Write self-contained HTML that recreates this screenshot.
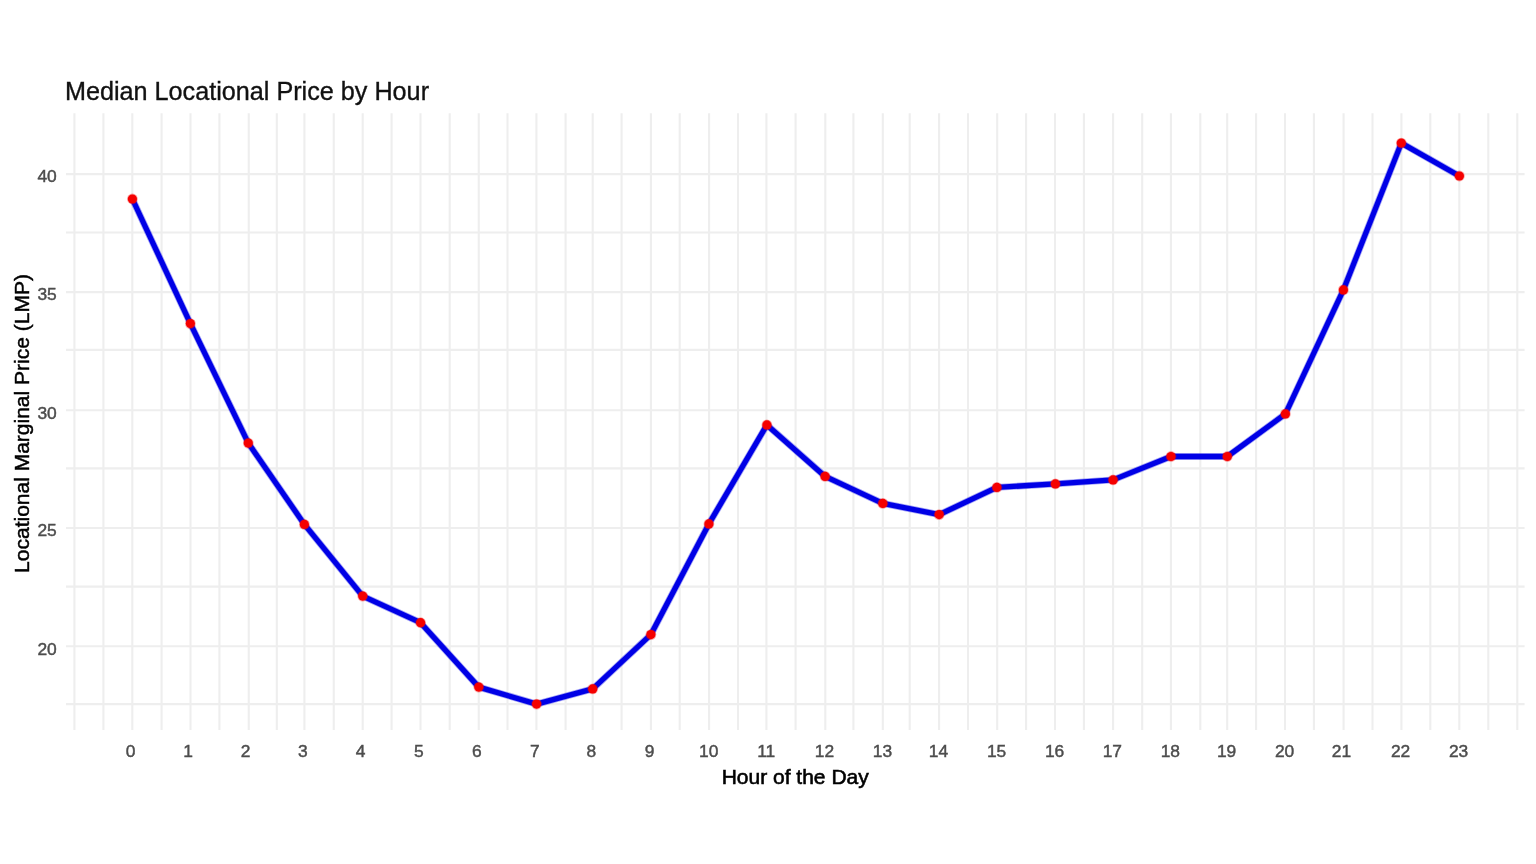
<!DOCTYPE html>
<html><head><meta charset="utf-8"><style>
html,body{margin:0;padding:0;background:#fff;}
body{width:1536px;height:864px;overflow:hidden;}
svg{display:block;will-change:transform;}

text{font-family:"Liberation Sans",sans-serif;}
</style></head><body>
<div id="w"><svg width="1536" height="864" viewBox="0 0 1536 864">
<g>
<rect width="1536" height="864" fill="#fff"/>
<g stroke="#EEEEEE" stroke-width="2.1" fill="none">
<line x1="74.40" y1="113.2" x2="74.40" y2="730.0"/>
<line x1="103.40" y1="113.2" x2="103.40" y2="730.0"/>
<line x1="132.30" y1="113.2" x2="132.30" y2="730.0"/>
<line x1="161.60" y1="113.2" x2="161.60" y2="730.0"/>
<line x1="190.50" y1="113.2" x2="190.50" y2="730.0"/>
<line x1="219.40" y1="113.2" x2="219.40" y2="730.0"/>
<line x1="248.75" y1="113.2" x2="248.75" y2="730.0"/>
<line x1="276.80" y1="113.2" x2="276.80" y2="730.0"/>
<line x1="304.40" y1="113.2" x2="304.40" y2="730.0"/>
<line x1="333.75" y1="113.2" x2="333.75" y2="730.0"/>
<line x1="362.70" y1="113.2" x2="362.70" y2="730.0"/>
<line x1="391.60" y1="113.2" x2="391.60" y2="730.0"/>
<line x1="420.50" y1="113.2" x2="420.50" y2="730.0"/>
<line x1="449.70" y1="113.2" x2="449.70" y2="730.0"/>
<line x1="478.75" y1="113.2" x2="478.75" y2="730.0"/>
<line x1="507.50" y1="113.2" x2="507.50" y2="730.0"/>
<line x1="536.40" y1="113.2" x2="536.40" y2="730.0"/>
<line x1="565.60" y1="113.2" x2="565.60" y2="730.0"/>
<line x1="592.70" y1="113.2" x2="592.70" y2="730.0"/>
<line x1="621.60" y1="113.2" x2="621.60" y2="730.0"/>
<line x1="650.90" y1="113.2" x2="650.90" y2="730.0"/>
<line x1="679.70" y1="113.2" x2="679.70" y2="730.0"/>
<line x1="709.10" y1="113.2" x2="709.10" y2="730.0"/>
<line x1="738.00" y1="113.2" x2="738.00" y2="730.0"/>
<line x1="766.40" y1="113.2" x2="766.40" y2="730.0"/>
<line x1="795.60" y1="113.2" x2="795.60" y2="730.0"/>
<line x1="825.30" y1="113.2" x2="825.30" y2="730.0"/>
<line x1="853.40" y1="113.2" x2="853.40" y2="730.0"/>
<line x1="882.80" y1="113.2" x2="882.80" y2="730.0"/>
<line x1="909.70" y1="113.2" x2="909.70" y2="730.0"/>
<line x1="939.10" y1="113.2" x2="939.10" y2="730.0"/>
<line x1="968.00" y1="113.2" x2="968.00" y2="730.0"/>
<line x1="997.20" y1="113.2" x2="997.20" y2="730.0"/>
<line x1="1026.10" y1="113.2" x2="1026.10" y2="730.0"/>
<line x1="1055.00" y1="113.2" x2="1055.00" y2="730.0"/>
<line x1="1083.90" y1="113.2" x2="1083.90" y2="730.0"/>
<line x1="1113.10" y1="113.2" x2="1113.10" y2="730.0"/>
<line x1="1142.20" y1="113.2" x2="1142.20" y2="730.0"/>
<line x1="1170.90" y1="113.2" x2="1170.90" y2="730.0"/>
<line x1="1200.30" y1="113.2" x2="1200.30" y2="730.0"/>
<line x1="1227.20" y1="113.2" x2="1227.20" y2="730.0"/>
<line x1="1256.10" y1="113.2" x2="1256.10" y2="730.0"/>
<line x1="1285.00" y1="113.2" x2="1285.00" y2="730.0"/>
<line x1="1313.90" y1="113.2" x2="1313.90" y2="730.0"/>
<line x1="1343.60" y1="113.2" x2="1343.60" y2="730.0"/>
<line x1="1372.50" y1="113.2" x2="1372.50" y2="730.0"/>
<line x1="1401.40" y1="113.2" x2="1401.40" y2="730.0"/>
<line x1="1430.30" y1="113.2" x2="1430.30" y2="730.0"/>
<line x1="1459.30" y1="113.2" x2="1459.30" y2="730.0"/>
<line x1="1488.30" y1="113.2" x2="1488.30" y2="730.0"/>
<line x1="1517.30" y1="113.2" x2="1517.30" y2="730.0"/>
<line x1="66.0" y1="174.10" x2="1524.6" y2="174.10"/>
<line x1="66.0" y1="232.50" x2="1524.6" y2="232.50"/>
<line x1="66.0" y1="292.10" x2="1524.6" y2="292.10"/>
<line x1="66.0" y1="349.90" x2="1524.6" y2="349.90"/>
<line x1="66.0" y1="410.30" x2="1524.6" y2="410.30"/>
<line x1="66.0" y1="468.40" x2="1524.6" y2="468.40"/>
<line x1="66.0" y1="528.00" x2="1524.6" y2="528.00"/>
<line x1="66.0" y1="586.60" x2="1524.6" y2="586.60"/>
<line x1="66.0" y1="646.30" x2="1524.6" y2="646.30"/>
<line x1="66.0" y1="704.10" x2="1524.6" y2="704.10"/>
</g>
<polyline points="132.4,199.0 190.4,323.6 248.3,443.1 304.4,524.4 362.7,596.1 420.6,622.7 478.8,687.1 536.6,704.1 592.7,688.9 650.9,634.6 708.9,523.9 766.9,424.9 825.1,476.4 882.8,503.4 939.2,514.6 996.9,487.4 1055.4,483.9 1113.1,479.9 1171.0,456.5 1227.3,456.5 1285.4,413.9 1343.4,289.9 1401.3,143.1 1459.4,176.0" fill="none" stroke="#0000E6" stroke-opacity="0.35" stroke-width="6.9" stroke-linejoin="round" stroke-linecap="butt"/>
<polyline points="132.4,199.0 190.4,323.6 248.3,443.1 304.4,524.4 362.7,596.1 420.6,622.7 478.8,687.1 536.6,704.1 592.7,688.9 650.9,634.6 708.9,523.9 766.9,424.9 825.1,476.4 882.8,503.4 939.2,514.6 996.9,487.4 1055.4,483.9 1113.1,479.9 1171.0,456.5 1227.3,456.5 1285.4,413.9 1343.4,289.9 1401.3,143.1 1459.4,176.0" fill="none" stroke="#0000E6" stroke-width="5.3" stroke-linejoin="round" stroke-linecap="butt"/>
<g fill="#F50000">
<circle cx="132.4" cy="199.0" r="5.3999999999999995" fill-opacity="0.35"/><circle cx="132.4" cy="199.0" r="4.6"/>
<circle cx="190.4" cy="323.6" r="5.3999999999999995" fill-opacity="0.35"/><circle cx="190.4" cy="323.6" r="4.6"/>
<circle cx="248.3" cy="443.1" r="5.3999999999999995" fill-opacity="0.35"/><circle cx="248.3" cy="443.1" r="4.6"/>
<circle cx="304.4" cy="524.4" r="5.3999999999999995" fill-opacity="0.35"/><circle cx="304.4" cy="524.4" r="4.6"/>
<circle cx="362.7" cy="596.1" r="5.3999999999999995" fill-opacity="0.35"/><circle cx="362.7" cy="596.1" r="4.6"/>
<circle cx="420.6" cy="622.7" r="5.3999999999999995" fill-opacity="0.35"/><circle cx="420.6" cy="622.7" r="4.6"/>
<circle cx="478.8" cy="687.1" r="5.3999999999999995" fill-opacity="0.35"/><circle cx="478.8" cy="687.1" r="4.6"/>
<circle cx="536.6" cy="704.1" r="5.3999999999999995" fill-opacity="0.35"/><circle cx="536.6" cy="704.1" r="4.6"/>
<circle cx="592.7" cy="688.9" r="5.3999999999999995" fill-opacity="0.35"/><circle cx="592.7" cy="688.9" r="4.6"/>
<circle cx="650.9" cy="634.6" r="5.3999999999999995" fill-opacity="0.35"/><circle cx="650.9" cy="634.6" r="4.6"/>
<circle cx="708.9" cy="523.9" r="5.3999999999999995" fill-opacity="0.35"/><circle cx="708.9" cy="523.9" r="4.6"/>
<circle cx="766.9" cy="424.9" r="5.3999999999999995" fill-opacity="0.35"/><circle cx="766.9" cy="424.9" r="4.6"/>
<circle cx="825.1" cy="476.4" r="5.3999999999999995" fill-opacity="0.35"/><circle cx="825.1" cy="476.4" r="4.6"/>
<circle cx="882.8" cy="503.4" r="5.3999999999999995" fill-opacity="0.35"/><circle cx="882.8" cy="503.4" r="4.6"/>
<circle cx="939.2" cy="514.6" r="5.3999999999999995" fill-opacity="0.35"/><circle cx="939.2" cy="514.6" r="4.6"/>
<circle cx="996.9" cy="487.4" r="5.3999999999999995" fill-opacity="0.35"/><circle cx="996.9" cy="487.4" r="4.6"/>
<circle cx="1055.4" cy="483.9" r="5.3999999999999995" fill-opacity="0.35"/><circle cx="1055.4" cy="483.9" r="4.6"/>
<circle cx="1113.1" cy="479.9" r="5.3999999999999995" fill-opacity="0.35"/><circle cx="1113.1" cy="479.9" r="4.6"/>
<circle cx="1171.0" cy="456.5" r="5.3999999999999995" fill-opacity="0.35"/><circle cx="1171.0" cy="456.5" r="4.6"/>
<circle cx="1227.3" cy="456.5" r="5.3999999999999995" fill-opacity="0.35"/><circle cx="1227.3" cy="456.5" r="4.6"/>
<circle cx="1285.4" cy="413.9" r="5.3999999999999995" fill-opacity="0.35"/><circle cx="1285.4" cy="413.9" r="4.6"/>
<circle cx="1343.4" cy="289.9" r="5.3999999999999995" fill-opacity="0.35"/><circle cx="1343.4" cy="289.9" r="4.6"/>
<circle cx="1401.3" cy="143.1" r="5.3999999999999995" fill-opacity="0.35"/><circle cx="1401.3" cy="143.1" r="4.6"/>
<circle cx="1459.4" cy="176.0" r="5.3999999999999995" fill-opacity="0.35"/><circle cx="1459.4" cy="176.0" r="4.6"/>
</g>
<g fill="#4D4D4D" stroke="#4D4D4D" stroke-width="0.45" font-size="17.4">
<text x="56.8" y="654.50" text-anchor="end">20</text>
<text x="56.8" y="536.20" text-anchor="end">25</text>
<text x="56.8" y="418.50" text-anchor="end">30</text>
<text x="56.8" y="300.30" text-anchor="end">35</text>
<text x="56.8" y="182.30" text-anchor="end">40</text>
<text x="130.60" y="757" text-anchor="middle">0</text>
<text x="188.20" y="757" text-anchor="middle">1</text>
<text x="245.70" y="757" text-anchor="middle">2</text>
<text x="302.90" y="757" text-anchor="middle">3</text>
<text x="360.60" y="757" text-anchor="middle">4</text>
<text x="418.80" y="757" text-anchor="middle">5</text>
<text x="476.80" y="757" text-anchor="middle">6</text>
<text x="534.80" y="757" text-anchor="middle">7</text>
<text x="591.30" y="757" text-anchor="middle">8</text>
<text x="649.70" y="757" text-anchor="middle">9</text>
<text x="708.70" y="757" text-anchor="middle">10</text>
<text x="766.20" y="757" text-anchor="middle">11</text>
<text x="824.50" y="757" text-anchor="middle">12</text>
<text x="882.50" y="757" text-anchor="middle">13</text>
<text x="938.40" y="757" text-anchor="middle">14</text>
<text x="996.60" y="757" text-anchor="middle">15</text>
<text x="1054.60" y="757" text-anchor="middle">16</text>
<text x="1112.30" y="757" text-anchor="middle">17</text>
<text x="1170.30" y="757" text-anchor="middle">18</text>
<text x="1226.60" y="757" text-anchor="middle">19</text>
<text x="1284.60" y="757" text-anchor="middle">20</text>
<text x="1341.50" y="757" text-anchor="middle">21</text>
<text x="1400.60" y="757" text-anchor="middle">22</text>
<text x="1458.60" y="757" text-anchor="middle">23</text>
</g>
<text x="65.0" y="99.5" font-size="25.2" fill="#111" stroke="#111" stroke-width="0.35">Median Locational Price by Hour</text>
<text x="795.2" y="784.1" font-size="21.0" fill="#000" stroke="#000" stroke-width="0.6" text-anchor="middle">Hour of the Day</text>
<text transform="translate(28.7,423.5) rotate(-90)" x="0" y="0" font-size="21.0" fill="#000" stroke="#000" stroke-width="0.45" text-anchor="middle">Locational Marginal Price (LMP)</text>
</g>
</svg></div>
</body></html>
